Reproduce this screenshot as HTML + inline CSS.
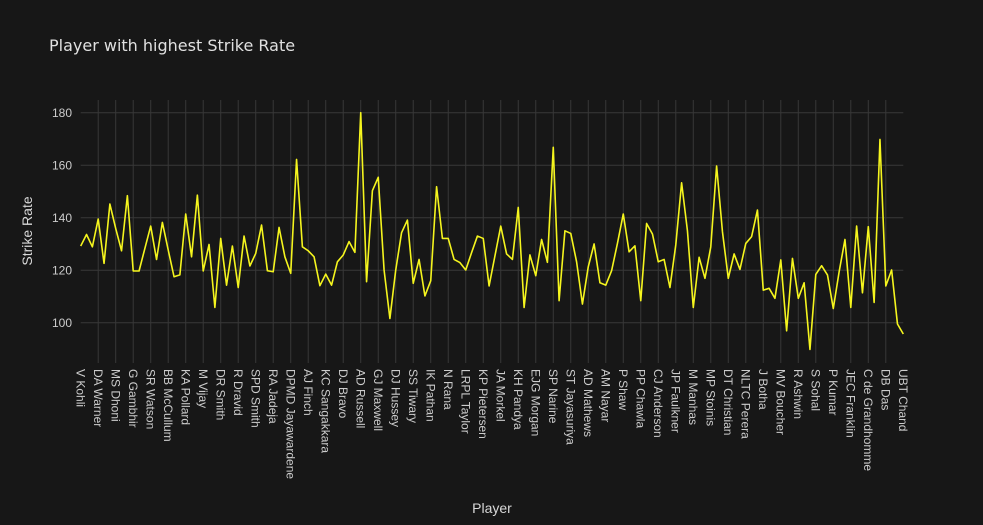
<!DOCTYPE html>
<html><head><meta charset="utf-8"><style>
html,body{margin:0;padding:0;background:#171717;}
svg{display:block;font-family:"Liberation Sans","DejaVu Sans",sans-serif;}
</style></head><body>
<svg id="chart" width="983" height="525" viewBox="0 0 983 525">
<rect width="983" height="525" fill="#171717"/>
<text x="49" y="51" font-size="16" fill="#e0e0e0" style="font-family:'DejaVu Sans',sans-serif">Player with highest Strike Rate</text>
<g id="grid"></g>
<g id="yticks"></g>
<g id="xticks"></g>
<path id="line" fill="none" stroke="#f5f51e" stroke-width="1.6" stroke-linejoin="round"/>
<text x="32" y="231" font-size="14" fill="#d8d8d8" text-anchor="middle" transform="rotate(-90 32 231)">Strike Rate</text>
<text x="492" y="513" font-size="14" fill="#d8d8d8" text-anchor="middle">Player</text>
</svg>
<script>
const tickLabels = ["V Kohli","DA Warner","MS Dhoni","G Gambhir","SR Watson","BB McCullum","KA Pollard","M Vijay","DR Smith","R Dravid","SPD Smith","RA Jadeja","DPMD Jayawardene","AJ Finch","KC Sangakkara","DJ Bravo","AD Russell","GJ Maxwell","DJ Hussey","SS Tiwary","IK Pathan","N Rana","LRPL Taylor","KP Pietersen","JA Morkel","KH Pandya","EJG Morgan","SP Narine","ST Jayasuriya","AD Mathews","AM Nayar","P Shaw","PP Chawla","CJ Anderson","JP Faulkner","M Manhas","MP Stoinis","DT Christian","NLTC Perera","J Botha","MV Boucher","R Ashwin","S Sohal","P Kumar","JEC Franklin","C de Grandhomme","DB Das","UBT Chand"];
const otherPlayers = ["SK Raina","RG Sharma","S Dhawan","AB de Villiers","CH Gayle","RV Uthappa","AM Rahane","KD Karthik","AT Rayudu","YK Pathan","MK Pandey","PA Patel","Yuvraj Singh","V Sehwag","SE Marsh","JH Kallis","SV Samson","KL Rahul","WP Saha","SR Tendulkar","AC Gilchrist","JP Duminy","F du Plessis","SS Iyer","RR Pant","Q de Kock","MEK Hussey","DA Miller","Mandeep Singh","NV Ojha","KK Nair","HH Pandya","JC Buttler","MA Agarwal","KM Jadhav","Ishan Kishan","SA Yadav","S Badrinath","SC Ganguly","MK Tiwary","LMP Simmons","Y Venugopal Rao","KS Williamson","DB Ravi Teja","AR Patel","Shubman Gill","RD Gaikwad","ML Hayden","BJ Hodge","JD Ryder","RA Tripathi","KV Sharma","TM Dilshan","MC Henriques","R Tewatia","DJ Hooda","CA Lynn","KM Jadhav II","Harbhajan Singh","M Vohra","SN Khan","GC Smith","MS Bisla","Azhar Mahmood","OA Shah","DT Patil","CL White","R Bhatia","AT Carey","SM Katich","Y Nagar","LA Pomersbach","B Chipli","TL Suman","DR Martyn","S Vidyut","AC Voges","A Mishra","Gurkeerat Singh","R Vinay Kumar","Z Khan","RE van der Merwe","MJ Lumb","DJ Jacobs","SB Jakati","JDP Oram","AS Raut","MF Maharoof","A Symonds","P Negi","B Sumanth","LR Shukla","VVS Laxman","RJ Harris"];
const strikeRates = [129.2,133.6,128.9,139.5,122.6,145.2,135.9,127.4,148.4,119.7,119.7,128.3,136.8,124.1,138.2,127.7,117.5,118.2,141.4,125.1,148.6,119.7,129.8,105.8,132.1,114.3,129.2,113.4,133.0,121.6,126.4,137.2,119.8,119.4,136.3,125.1,118.8,162.2,128.9,127.4,125.1,114.1,118.5,114.3,123.2,125.8,130.9,126.8,180.0,115.6,150.3,155.4,120.1,101.6,120.1,134.3,139.1,115.0,124.1,110.2,116.0,151.8,132.1,132.1,124.1,122.9,120.1,126.7,133.0,132.1,114.0,125.4,136.8,126.2,124.1,143.9,105.8,125.8,117.9,131.7,123.0,166.8,108.4,135.0,134.0,123.2,107.1,121.3,130.0,115.2,114.3,119.8,130.2,141.4,127.0,129.3,108.4,137.8,133.8,123.2,124.1,113.4,129.6,153.3,135.0,105.8,124.9,116.9,128.9,159.7,134.7,116.9,126.2,120.3,130.2,132.8,142.9,112.4,113.1,109.3,123.9,96.9,124.5,109.3,115.2,89.8,118.4,121.7,118.2,105.4,119.4,131.7,105.8,136.8,111.4,136.6,107.7,169.8,114.0,120.1,99.5,95.7];
const yTickValues = [100,120,140,160,180];

const players = [];
for (let i = 0; i < strikeRates.length; i++) {
  if (i % 3 === 0) players.push(tickLabels[i / 3] || ("Player " + i));
  else players.push(otherPlayers[Math.floor(i / 3) * 2 + (i % 3) - 1] || ("Player " + i));
}

const NS = "http://www.w3.org/2000/svg";
const X0 = 80.7, X1 = 903.3, Y_TOP = 100, Y_BOT = 363;
const yMin = 100, yMax = 180, yPx100 = 322.7, yPx180 = 112.7;
function xScale(i){ return X0 + (X1 - X0) * i / (strikeRates.length - 1); }
function yScale(v){ return yPx100 + (v - yMin) * (yPx180 - yPx100) / (yMax - yMin); }

const grid = document.getElementById('grid');
const yticks = document.getElementById('yticks');
const xticks = document.getElementById('xticks');

yTickValues.forEach(v => {
  const y = yScale(v);
  const l = document.createElementNS(NS, 'line');
  l.setAttribute('x1', X0); l.setAttribute('x2', X1);
  l.setAttribute('y1', y); l.setAttribute('y2', y);
  l.setAttribute('stroke', '#383838'); l.setAttribute('stroke-width', '1');
  
  
  grid.appendChild(l);
  const t = document.createElementNS(NS, 'text');
  t.setAttribute('x', 72); t.setAttribute('y', y + 4.5);
  t.setAttribute('text-anchor', 'end'); t.setAttribute('font-size', '12');
  t.setAttribute('fill', '#cccccc');
  t.textContent = v;
  
  
  yticks.appendChild(t);
});

for (let i = 0; i < players.length; i += 3) {
  const x = xScale(i);
  if (i > 0 && i < players.length - 1) {
    const l = document.createElementNS(NS, 'line');
    l.setAttribute('x1', x); l.setAttribute('x2', x);
    l.setAttribute('y1', Y_TOP); l.setAttribute('y2', Y_BOT);
    l.setAttribute('stroke', '#383838'); l.setAttribute('stroke-width', '1');
    
    
    grid.appendChild(l);
  }
  const t = document.createElementNS(NS, 'text');
  t.setAttribute('x', 0); t.setAttribute('y', 0);
  t.setAttribute('font-size', '12'); t.setAttribute('fill', '#cccccc');
  t.setAttribute('transform', 'translate(' + (x - 4.2) + ',369) rotate(90)');
  t.textContent = players[i];
  
  
  xticks.appendChild(t);
}

let d = '';
strikeRates.forEach((v, i) => {
  d += (i ? 'L' : 'M') + xScale(i).toFixed(2) + ',' + yScale(v).toFixed(2);
});
document.getElementById('line').setAttribute('d', d);
</script>
</body></html>
